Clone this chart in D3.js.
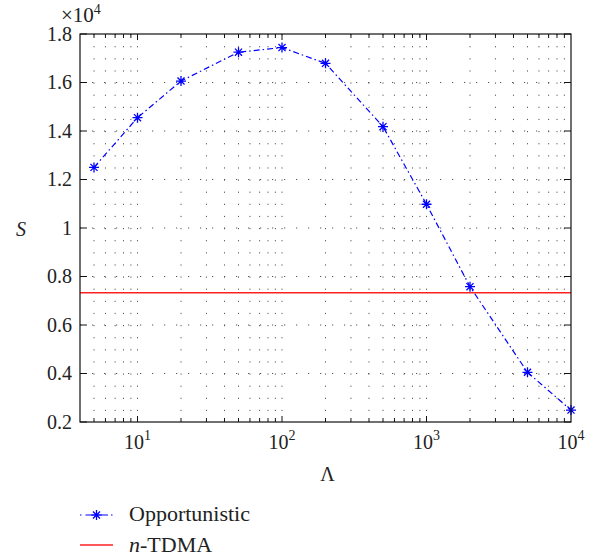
<!DOCTYPE html>
<html>
<head>
<meta charset="utf-8">
<script src="https://cdn.jsdelivr.net/npm/d3@7"></script>
<style>
  body { margin: 0; background: #fff; }
  text { font-family: "Liberation Serif", "DejaVu Serif", serif; fill: #222; }
</style>
</head>
<body>
<svg id="chart"></svg>
<script>
// Lambda values (x) and throughput S (y)
const lambdaValues = [5, 10, 20, 50, 100, 200, 500, 1000, 2000, 5000, 10000];
const opportunistic = [12500, 14550, 16060, 17250, 17440, 16790, 14180, 10980, 7580, 4050, 2490];
const nTdma = 7330;
const yTicks = [2000, 4000, 6000, 8000, 10000, 12000, 14000, 16000, 18000];
const xMajorTicks = [10, 100, 1000, 10000];
const seriesNames = ["Opportunistic", "n-TDMA"];

const W = 596, H = 558;
const margin = { top: 34, right: 25, bottom: 136, left: 80 };
const width = W - margin.left - margin.right;
const height = H - margin.top - margin.bottom;
const fs = 20;

const svg = d3.select('#chart').attr('width', W).attr('height', H);
const g = svg.append('g').attr('transform', `translate(${margin.left},${margin.top})`);

const x = d3.scaleLog().domain([4, 10000]).range([0, width]);
const y = d3.scaleLinear().domain([2000, 18000]).range([height, 0]);

// all log ticks (minor + major) inside the domain
const xAllTicks = [];
for (let e = 0; e <= 3; e++) {
  for (let m = 1; m <= 9; m++) {
    const v = m * Math.pow(10, e);
    if (v > 4 && v < 10000) xAllTicks.push(v);
  }
}
const isMajor = v => Math.abs(Math.log10(v) - Math.round(Math.log10(v))) < 1e-9;

// grid: dotted
const step = y(2000) - y(2500);
g.append('g').selectAll('line')
  .data(xAllTicks)
  .enter().append('line')
  .attr('x1', d => x(d)).attr('x2', d => x(d))
  .attr('y1', 0).attr('y2', height)
  .attr('stroke', '#555').attr('stroke-width', 1)
  .attr('stroke-dasharray', `1.2,${step - 1.2}`);

g.append('g').selectAll('line')
  .data(yTicks.slice(1, -1))
  .enter().append('line')
  .attr('x1', 0).attr('x2', width)
  .attr('y1', d => y(d)).attr('y2', d => y(d))
  .attr('stroke', '#555').attr('stroke-width', 1)
  .attr('stroke-dasharray', '1.2,10.8');

// n-TDMA line
g.append('line')
  .attr('x1', 0).attr('x2', width)
  .attr('y1', y(nTdma)).attr('y2', y(nTdma))
  .attr('stroke', '#ff2020').attr('stroke-width', 1.3);

// opportunistic curve
const line = d3.line()
  .x((d, i) => x(lambdaValues[i]))
  .y(d => y(d));

g.append('path')
  .datum(opportunistic)
  .attr('d', line)
  .attr('fill', 'none')
  .attr('stroke', '#0000ff')
  .attr('stroke-width', 1.2)
  .attr('stroke-dasharray', '6,3,1.5,3');

// asterisk marker (+ and x)
function asterisk(r) {
  const d = r * Math.SQRT1_2;
  return `M${-r},0L${r},0M0,${-r}L0,${r}M${-d},${-d}L${d},${d}M${-d},${d}L${d},${-d}`;
}

g.append('g').selectAll('path')
  .data(opportunistic)
  .enter().append('path')
  .attr('transform', (d, i) => `translate(${x(lambdaValues[i])},${y(d)})`)
  .attr('d', asterisk(5))
  .attr('stroke', '#0000ff')
  .attr('stroke-width', 1.3)
  .attr('fill', 'none');

// box
g.append('rect')
  .attr('width', width).attr('height', height)
  .attr('fill', 'none').attr('stroke', '#111').attr('stroke-width', 1.2);

// x ticks (bottom + top, inward)
[[height, -1], [0, 1]].forEach(([yy, dir]) => {
  g.append('g').selectAll('line')
    .data(xAllTicks)
    .enter().append('line')
    .attr('x1', d => x(d)).attr('x2', d => x(d))
    .attr('y1', yy).attr('y2', d => yy + dir * (isMajor(d) ? 6 : 4))
    .attr('stroke', '#111').attr('stroke-width', 1);
});

// y ticks (left + right, inward)
[[0, 1], [width, -1]].forEach(([xx, dir]) => {
  g.append('g').selectAll('line')
    .data(yTicks)
    .enter().append('line')
    .attr('x1', xx).attr('x2', xx + dir * 7)
    .attr('y1', d => y(d)).attr('y2', d => y(d))
    .attr('stroke', '#111').attr('stroke-width', 1);
});

// y tick labels
g.append('g').selectAll('text')
  .data(yTicks)
  .enter().append('text')
  .attr('x', -8)
  .attr('y', d => y(d) + 6.5)
  .attr('text-anchor', 'end')
  .attr('font-size', fs)
  .text(d => d3.format('~g')(d / 10000));

// x tick labels 10^n
const xl = g.append('g').selectAll('text')
  .data(xMajorTicks)
  .enter().append('text')
  .attr('x', d => x(d))
  .attr('y', height + 27)
  .attr('text-anchor', 'middle')
  .attr('font-size', fs);
xl.append('tspan').text('10');
xl.append('tspan')
  .attr('dy', -9).attr('font-size', 14)
  .text(d => Math.round(Math.log10(d)));

// exponent multiplier
const mult = svg.append('text')
  .attr('x', 61).attr('y', 22)
  .attr('font-size', 21);
mult.append('tspan').text('×10');
mult.append('tspan').attr('dy', -8).attr('font-size', 14).text('4');

// axis titles
svg.append('text')
  .attr('x', margin.left + width / 2 + 2)
  .attr('y', 481)
  .attr('text-anchor', 'middle')
  .attr('font-size', fs)
  .text('Λ');

svg.append('text')
  .attr('x', 21)
  .attr('y', 236)
  .attr('text-anchor', 'middle')
  .attr('font-size', fs)
  .attr('font-style', 'italic')
  .text('S');

// legend
const leg = svg.append('g');
leg.append('line')
  .attr('x1', 80).attr('x2', 113).attr('y1', 515).attr('y2', 515)
  .attr('stroke', '#0000ff').attr('stroke-width', 1.2)
  .attr('stroke-dasharray', '1.5,4,7,3');
leg.append('path')
  .attr('transform', 'translate(96.5,515)')
  .attr('d', asterisk(5))
  .attr('stroke', '#0000ff').attr('stroke-width', 1.3);
leg.append('text')
  .attr('x', 129).attr('y', 521)
  .attr('font-size', 22)
  .text(seriesNames[0]);

leg.append('line')
  .attr('x1', 80).attr('x2', 113).attr('y1', 545).attr('y2', 545)
  .attr('stroke', '#ff2020').attr('stroke-width', 1.3);
const t2 = leg.append('text')
  .attr('x', 129).attr('y', 552)
  .attr('font-size', 22);
t2.append('tspan').attr('font-style', 'italic').text('n');
t2.append('tspan').text(seriesNames[1].slice(1));
</script>
</body>
</html>
